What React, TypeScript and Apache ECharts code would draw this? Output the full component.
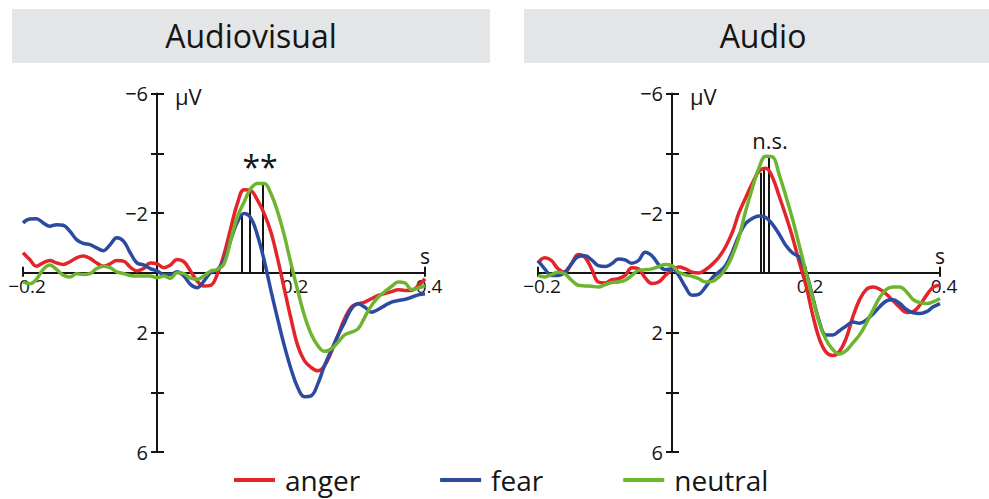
import React, { useEffect, useRef } from "react";
import * as echarts from "echarts";

// time in seconds
const times = [
  -0.2, -0.19, -0.18, -0.17, -0.16, -0.15, -0.14, -0.13, -0.12, -0.11,
  -0.1, -0.09, -0.08, -0.07, -0.06, -0.05, -0.04, -0.03, -0.02, -0.01,
  0, 0.01, 0.02, 0.03, 0.04, 0.05, 0.06, 0.07, 0.08, 0.09,
  0.1, 0.11, 0.12, 0.13, 0.14, 0.15, 0.16, 0.17, 0.18, 0.19,
  0.2, 0.21, 0.22, 0.23, 0.24, 0.25, 0.26, 0.27, 0.28, 0.29,
  0.3, 0.31, 0.32, 0.33, 0.34, 0.35, 0.36, 0.37, 0.38, 0.39, 0.4,
];

// Audiovisual (µV)
const avAnger = [
  -0.67, -0.44, -0.22, -0.33, -0.41, -0.33, -0.28, -0.37, -0.5, -0.56,
  -0.48, -0.33, -0.22, -0.3, -0.41, -0.39, -0.19, -0.06, -0.14, -0.33,
  -0.3, -0.17, -0.26, -0.44, -0.37, -0.06, 0.28, 0.44, 0.42, 0.05,
  -0.62, -1.48, -2.32, -2.78, -2.75, -2.43, -1.98, -1.36, -0.47, 0.54,
  1.54, 2.44, 2.94, 3.17, 3.28, 3.11, 2.66, 2.1, 1.54, 1.15,
  1.04, 0.98, 0.87, 0.76, 0.7, 0.63, 0.57, 0.59, 0.59, 0.43, 0.2,
];
const avFear = [
  -1.67, -1.8, -1.81, -1.67, -1.56, -1.61, -1.59, -1.39, -1.11, -0.98,
  -0.94, -0.83, -0.74, -0.94, -1.17, -1.06, -0.67, -0.33, -0.26, -0.14,
  -0.06, 0.06, 0.06, -0.03, 0.11, 0.39, 0.5, 0.28, 0.0, -0.1,
  -0.4, -1.09, -1.7, -1.98, -1.83, -1.25, -0.41, 0.59, 1.54, 2.44,
  3.22, 3.84, 4.15, 4.12, 3.72, 3.11, 2.6, 2.1, 1.66, 1.21,
  1.04, 1.15, 1.32, 1.23, 1.1, 0.98, 0.93, 0.89, 0.82, 0.74, 0.7,
];
const avNeutral = [
  0.3, 0.37, 0.22, -0.11, -0.26, -0.11, 0.08, 0.14, 0.03, 0.06,
  0.03, -0.14, -0.22, -0.17, -0.03, 0.03, 0.09, 0.11, 0.11, 0.11,
  0.17, 0.11, 0.19, 0.0, 0.03, 0.17, 0.22, 0.11, -0.06, -0.11,
  -0.3, -1.09, -1.87, -2.37, -2.82, -2.99, -2.99, -2.65, -2.04, -1.25,
  -0.3, 0.59, 1.43, 2.05, 2.44, 2.63, 2.55, 2.33, 2.08, 1.99,
  1.88, 1.49, 1.1, 0.82, 0.63, 0.46, 0.31, 0.34, 0.56, 0.51, 0.43,
];

// Audio (µV)
const aAnger = [
  -0.32, -0.5, -0.41, -0.13, -0.02, -0.3, -0.61, -0.52, -0.13, 0.31,
  0.34, 0.23, 0.2, 0.09, -0.17, -0.13, 0.17, 0.36, 0.31, 0.09,
  -0.1, -0.19, -0.13, -0.02, 0.01, -0.1, -0.28, -0.52, -0.87, -1.35,
  -2.01, -2.51, -3.0, -3.4, -3.5, -3.19, -2.56, -1.9, -1.18, -0.35,
  0.42, 1.41, 2.22, 2.66, 2.77, 2.63, 2.19, 1.47, 0.9, 0.56,
  0.48, 0.55, 0.72, 0.94, 1.16, 1.33, 1.3, 1.08, 0.75, 0.48, 0.42,
];
const aFear = [
  -0.41, -0.13, 0.09, 0.09, -0.02, -0.3, -0.54, -0.57, -0.43, -0.24,
  -0.21, -0.3, -0.46, -0.43, -0.32, -0.41, -0.69, -0.57, -0.28, -0.1,
  -0.13, 0.09, 0.48, 0.75, 0.72, 0.48, 0.17, -0.02, -0.24, -0.7,
  -1.25, -1.65, -1.82, -1.9, -1.85, -1.62, -1.29, -0.91, -0.66, -0.52,
  -0.02, 0.81, 1.64, 2.08, 2.08, 1.94, 1.78, 1.65, 1.69, 1.58,
  1.38, 1.14, 0.94, 0.9, 1.03, 1.23, 1.34, 1.36, 1.3, 1.14, 1.03,
];
const aNeutral = [
  0.09, 0.14, 0.06, -0.02, 0.03, 0.25, 0.42, 0.44, 0.45, 0.48,
  0.4, 0.33, 0.31, 0.25, 0.09, -0.08, -0.1, -0.13, -0.21, -0.28,
  -0.24, -0.02, 0.07, 0.12, 0.2, 0.31, 0.29, 0.14, -0.13, -0.57,
  -1.2, -2.07, -2.84, -3.52, -3.9, -3.88, -3.28, -2.56, -1.79, -0.91,
  -0.02, 0.86, 1.69, 2.24, 2.57, 2.72, 2.61, 2.35, 2.08, 1.69,
  1.25, 0.83, 0.56, 0.48, 0.48, 0.64, 0.9, 1.0, 1.03, 0.97, 0.86,
];

// peak latency markers (s) and peak amplitudes (µV)
const avPeakTimes = [0.126, 0.139, 0.158];
const avPeakValues = [-1.95, -2.75, -2.98];
const aPeakTimes = [0.133, 0.137, 0.145];
const aPeakValues = [-3.35, -3.45, -3.88];

const panelTitles = ["Audiovisual", "Audio"];
const significance = ["**", "n.s."];
const conditions = ["anger", "fear", "neutral"];
const conditionColors = ["#e3242b", "#2c4ba0", "#6db52f"];
const yTickLabels = [-6, -2, 2, 6];
const xTickLabels = [-0.2, 0.2, 0.4];
const yUnit = "μV";
const xUnit = "s";

const FONT = "'Open Sans', 'Noto Sans', sans-serif";
const INK = "#151515";

function fmtNum(v: number): string {
  const r = Math.round(v * 10) / 10;
  const s = String(Math.abs(r));
  return r < 0 ? "\u2212" + s : s;
}

export default function App() {
  const ref = useRef<HTMLDivElement>(null);

  useEffect(() => {
    if (!ref.current) return;
    const chart = echarts.init(ref.current, null, { renderer: "svg" });

    const grids = [
      { left: 23, top: 93.5, width: 402, height: 358.5 },
      { left: 538, top: 93.5, width: 402, height: 358.5 },
    ];
    const zeroXOffset = 134; // px from left edge of grid to t = 0
    const zeroYOffset = 179.25; // px from bottom edge of grid to 0 µV

    const xAxes: any[] = [];
    const yAxes: any[] = [];
    grids.forEach((_, gi) => {
      xAxes.push({
        type: "value",
        gridIndex: gi,
        min: -0.2,
        max: 0.4,
        interval: 0.2,
        position: "bottom",
        offset: -zeroYOffset,
        axisLine: { onZero: false, lineStyle: { color: INK, width: 2 } },
        axisTick: { show: true, length: 4, lineStyle: { color: INK, width: 2 } },
        axisLabel: {
          margin: 4,
          fontSize: 19,
          color: INK,
          fontFamily: FONT,
          padding: [0, 0, 0, 8],
          formatter: (v: number) =>
            xTickLabels.some((t) => Math.abs(t - v) < 1e-6) ? fmtNum(v) : "",
        },
        splitLine: { show: false },
      });
      xAxes.push({
        type: "value",
        gridIndex: gi,
        min: -0.2,
        max: 0.4,
        interval: 0.2,
        position: "top",
        offset: -zeroYOffset,
        axisLine: { show: false, onZero: false },
        axisTick: { show: true, length: 6, lineStyle: { color: INK, width: 2 } },
        axisLabel: { show: false },
        splitLine: { show: false },
      });
      yAxes.push({
        type: "value",
        gridIndex: gi,
        inverse: true,
        min: -6,
        max: 6,
        interval: 2,
        position: "left",
        offset: -zeroXOffset,
        axisLine: { onZero: false, lineStyle: { color: INK, width: 2 } },
        axisTick: { show: true, length: 6, lineStyle: { color: INK, width: 2 } },
        axisLabel: {
          margin: 9,
          fontSize: 20,
          color: INK,
          fontFamily: FONT,
          formatter: (v: number) =>
            yTickLabels.some((t) => Math.abs(t - v) < 1e-6) ? fmtNum(v) : "",
        },
        splitLine: { show: false },
      });
      yAxes.push({
        type: "value",
        gridIndex: gi,
        inverse: true,
        min: -6,
        max: 6,
        interval: 2,
        position: "right",
        offset: -(402 - zeroXOffset),
        axisLine: { show: false, onZero: false },
        axisTick: { show: true, length: 7, lineStyle: { color: INK, width: 2 } },
        axisLabel: { show: false },
        splitLine: { show: false },
      });
    });

    const panels = [
      { series: [avAnger, avFear, avNeutral], peakT: avPeakTimes, peakV: avPeakValues },
      { series: [aAnger, aFear, aNeutral], peakT: aPeakTimes, peakV: aPeakValues },
    ];

    const series: any[] = [];
    panels.forEach((p, pi) => {
      series.push({
        type: "line",
        name: "peaks" + pi,
        xAxisIndex: pi * 2,
        yAxisIndex: pi * 2,
        data: [],
        z: 1,
        markLine: {
          silent: true,
          z: 1,
          symbol: ["none", "none"],
          label: { show: false },
          lineStyle: { color: INK, width: 2, type: "solid" },
          data: p.peakT.map((t, i) => [
            { coord: [t, 0] },
            { coord: [t, p.peakV[i]] },
          ]),
        },
      });
      p.series.forEach((vals, ci) => {
        series.push({
          type: "line",
          name: conditions[ci],
          xAxisIndex: pi * 2,
          yAxisIndex: pi * 2,
          data: times.map((t, i) => [t, vals[i]]),
          smooth: 0.4,
          showSymbol: false,
          symbol: "none",
          z: 3,
          color: conditionColors[ci],
          lineStyle: { color: conditionColors[ci], width: 3.5 },
        });
      });
    });

    const option: any = {
      animation: false,
      backgroundColor: "#ffffff",
      grid: grids,
      xAxis: xAxes,
      yAxis: yAxes,
      legend: {
        data: conditions,
        left: 234,
        top: 466,
        padding: 0,
        icon: "rect",
        itemWidth: 41,
        itemHeight: 4,
        itemGap: 80,
        textStyle: { fontSize: 28, color: INK, fontFamily: FONT, padding: [0, 0, 0, 5] },
      },
      series,
      graphic: [
        { type: "rect", shape: { x: 12, y: 9, width: 478, height: 54 }, style: { fill: "#e4e5e7" }, z: 0 },
        { type: "rect", shape: { x: 524, y: 9, width: 465, height: 54 }, style: { fill: "#e4e5e7" }, z: 0 },
        {
          type: "text", x: 251, y: 35, z: 1,
          style: { text: panelTitles[0], font: `32px ${FONT}`, fill: INK, align: "center", verticalAlign: "middle" },
        },
        {
          type: "text", x: 763, y: 35, z: 1,
          style: { text: panelTitles[1], font: `32px ${FONT}`, fill: INK, align: "center", verticalAlign: "middle" },
        },
        {
          type: "text", x: 175, y: 96,
          style: { text: yUnit, font: `22px ${FONT}`, fill: INK, align: "left", verticalAlign: "middle" },
        },
        {
          type: "text", x: 690, y: 96,
          style: { text: yUnit, font: `22px ${FONT}`, fill: INK, align: "left", verticalAlign: "middle" },
        },
        {
          type: "text", x: 425, y: 256,
          style: { text: xUnit, font: `21px ${FONT}`, fill: INK, align: "center", verticalAlign: "middle" },
        },
        {
          type: "text", x: 940, y: 256,
          style: { text: xUnit, font: `21px ${FONT}`, fill: INK, align: "center", verticalAlign: "middle" },
        },
        {
          type: "text", x: 260, y: 166,
          style: { text: significance[0], font: `32px ${FONT}`, fill: INK, align: "center", verticalAlign: "middle" },
        },
        {
          type: "text", x: 770, y: 140,
          style: { text: significance[1], font: `22px ${FONT}`, fill: INK, align: "center", verticalAlign: "middle" },
        },
      ],
    };

    chart.setOption(option);
    return () => chart.dispose();
  }, []);

  return (
    <div
      ref={ref}
      style={{ position: "fixed", left: 0, top: 0, width: 989, height: 499, background: "#fff" }}
    />
  );
}
